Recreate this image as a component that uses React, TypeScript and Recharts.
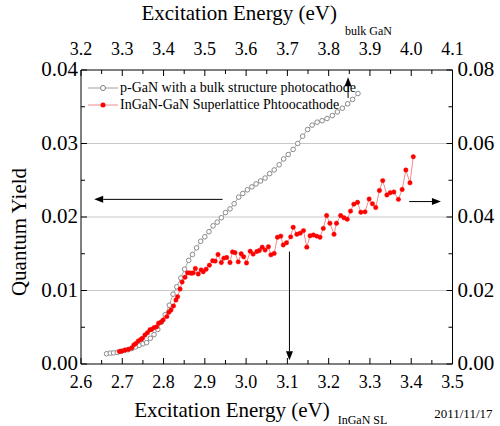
import React from 'react'
import { LineChart, Line, XAxis, YAxis, ReferenceLine, Legend, Label } from 'recharts'

const FONT = '"Liberation Serif", "Times New Roman", serif'

// p-GaN bulk photocathode: energy on the top axis (eV), yield on the left axis
const bulkEnergy = [
  3.262, 3.271, 3.279, 3.288, 3.297, 3.305, 3.314, 3.323, 3.332, 3.341,
  3.350, 3.359, 3.368, 3.377, 3.386, 3.395, 3.404, 3.414, 3.423, 3.432,
  3.442, 3.451, 3.461, 3.470, 3.480, 3.490, 3.500, 3.510, 3.520, 3.530,
  3.540, 3.550, 3.561, 3.571, 3.582, 3.592, 3.603, 3.614, 3.624, 3.635,
  3.646, 3.657, 3.668, 3.680, 3.691, 3.702, 3.714, 3.725, 3.737, 3.749,
  3.760, 3.772, 3.784, 3.796, 3.809, 3.821, 3.833, 3.846, 3.858, 3.871,
]
const bulkYield = [
  0.0014, 0.00148, 0.00151, 0.00158, 0.00174, 0.00184, 0.00194, 0.0021, 0.00232, 0.00255,
  0.00275, 0.0029, 0.0035, 0.004, 0.0047, 0.0057, 0.0067, 0.008, 0.0095, 0.0105,
  0.0117, 0.0129, 0.0141, 0.0149, 0.0158, 0.0167, 0.0173, 0.018, 0.0188, 0.0193,
  0.0199, 0.0206, 0.0211, 0.0218, 0.0227, 0.0232, 0.0237, 0.0241, 0.0245, 0.0249,
  0.0253, 0.0259, 0.0264, 0.0271, 0.0279, 0.0285, 0.0292, 0.03, 0.031, 0.0319,
  0.0325, 0.0329, 0.0331, 0.0334, 0.0338, 0.0343, 0.0348, 0.0354, 0.036, 0.0368,
]

// InGaN-GaN superlattice: energy on the bottom axis (eV), yield on the right axis
const slEnergy = [
  2.693, 2.699, 2.707, 2.715, 2.723, 2.728, 2.733, 2.739, 2.745, 2.749,
  2.755, 2.761, 2.767, 2.771, 2.777, 2.783, 2.788, 2.794, 2.799, 2.808,
  2.813, 2.818, 2.824, 2.830, 2.834, 2.840, 2.845, 2.852, 2.858, 2.863,
  2.868, 2.872, 2.877, 2.884, 2.891, 2.896, 2.903, 2.911, 2.919, 2.925,
  2.932, 2.940, 2.946, 2.953, 2.961, 2.967, 2.973, 2.981, 2.988, 2.994,
  3.001, 3.010, 3.017, 3.026, 3.032, 3.039, 3.046, 3.054, 3.060, 3.068,
  3.076, 3.084, 3.090, 3.098, 3.108, 3.114, 3.123, 3.131, 3.139, 3.147,
  3.155, 3.163, 3.171, 3.179, 3.187, 3.195, 3.203, 3.213, 3.219, 3.229,
  3.237, 3.245, 3.253, 3.261, 3.270, 3.278, 3.288, 3.298, 3.306, 3.314,
  3.323, 3.331, 3.341, 3.349, 3.358, 3.369, 3.378, 3.387, 3.397, 3.405,
]
const slYield = [
  0.0034, 0.0035, 0.0038, 0.004, 0.0044, 0.0052, 0.0056, 0.0063, 0.0067, 0.007,
  0.0079, 0.0085, 0.0093, 0.0094, 0.0099, 0.0101, 0.0111, 0.0114, 0.012, 0.0129,
  0.0141, 0.0147, 0.0158, 0.0174, 0.0183, 0.0204, 0.0223, 0.0236, 0.0248, 0.0248,
  0.0247, 0.0248, 0.026, 0.0245, 0.0256, 0.0251, 0.0258, 0.0269, 0.0281, 0.028,
  0.0298, 0.0276, 0.0288, 0.029, 0.0276, 0.0305, 0.0303, 0.0278, 0.03, 0.0292,
  0.0275, 0.0307, 0.0299, 0.0306, 0.0309, 0.0318, 0.031, 0.0319, 0.0297, 0.0301,
  0.0345, 0.0348, 0.0324, 0.033, 0.0346, 0.0372, 0.0353, 0.0356, 0.0363, 0.0318,
  0.0349, 0.0351, 0.0348, 0.0345, 0.0369, 0.0404, 0.0383, 0.0353, 0.0383, 0.0404,
  0.0398, 0.0394, 0.0416, 0.0435, 0.044, 0.0413, 0.0414, 0.0449, 0.0436, 0.0426,
  0.0472, 0.0499, 0.046, 0.0466, 0.0468, 0.0448, 0.0475, 0.0528, 0.0493, 0.0564,
]

const bottomTicks = [2.6, 2.65, 2.7, 2.75, 2.8, 2.85, 2.9, 2.95, 3.0, 3.05, 3.1, 3.15, 3.2, 3.25, 3.3, 3.35, 3.4, 3.45, 3.5]
const topTicks = [3.2, 3.25, 3.3, 3.35, 3.4, 3.45, 3.5, 3.55, 3.6, 3.65, 3.7, 3.75, 3.8, 3.85, 3.9, 3.95, 4.0, 4.05, 4.1]
const leftTicks = [0, 0.005, 0.01, 0.015, 0.02, 0.025, 0.03, 0.035, 0.04]
const rightTicks = [0, 0.01, 0.02, 0.03, 0.04, 0.05, 0.06, 0.07, 0.08]
const gridLevels = [0.01, 0.02, 0.03]

const bulkName = 'p-GaN with a bulk structure photocathode'
const slName = 'InGaN-GaN Superlattice Phtoocathode'

const bulkData = bulkEnergy.map((x, i) => ({ x, y: bulkYield[i] }))
const slData = slEnergy.map((x, i) => ({ x, y: slYield[i] }))

const onStep = (v: number, step: number) => Math.abs(v / step - Math.round(v / step)) < 1e-6

const BottomTick = (props: any) => {
  const { x, y, payload } = props
  const major = onStep(payload.value, 0.1)
  return (
    <g>
      <line x1={x} y1={y} x2={x} y2={y - (major ? 6 : 4)} stroke="#000" />
      {major && (
        <text x={x} y={y + 24} textAnchor="middle" fontSize={18} fontFamily={FONT} fill="#000">
          {payload.value.toFixed(1)}
        </text>
      )}
    </g>
  )
}

const TopTick = (props: any) => {
  const { x, y, payload } = props
  const major = onStep(payload.value, 0.1)
  return (
    <g>
      <line x1={x} y1={y} x2={x} y2={y + (major ? 6 : 4)} stroke="#000" />
      {major && (
        <text x={x} y={y - 15} textAnchor="middle" fontSize={18} fontFamily={FONT} fill="#000">
          {payload.value.toFixed(1)}
        </text>
      )}
    </g>
  )
}

const LeftTick = (props: any) => {
  const { x, y, payload } = props
  const major = onStep(payload.value, 0.01)
  return (
    <g>
      <line x1={x} y1={y} x2={x + (major ? 6 : 4)} y2={y} stroke="#000" />
      {major && (
        <text x={x - 3} y={y + 6} textAnchor="end" fontSize={21} fontFamily={FONT} fill="#000">
          {payload.value.toFixed(2)}
        </text>
      )}
    </g>
  )
}

const RightTick = (props: any) => {
  const { x, y, payload } = props
  const major = onStep(payload.value, 0.02)
  return (
    <g>
      <line x1={x} y1={y} x2={x - (major ? 6 : 4)} y2={y} stroke="#000" />
      {major && (
        <text x={x + 5} y={y + 6} textAnchor="start" fontSize={21} fontFamily={FONT} fill="#000">
          {payload.value.toFixed(2)}
        </text>
      )}
    </g>
  )
}

const TopTitle = ({ viewBox }: any) => (
  <text x={viewBox.x + viewBox.width / 2} y={viewBox.y + 20} textAnchor="middle" fontFamily={FONT} fill="#000">
    <tspan fontSize={21}>Excitation Energy (eV)</tspan>
    <tspan fontSize={12} dx={8} dy={15}>bulk GaN</tspan>
  </text>
)

const BottomTitle = ({ viewBox }: any) => (
  <g>
    <text x={viewBox.x + viewBox.width / 2 - 6} y={viewBox.y + 53} textAnchor="middle" fontFamily={FONT} fill="#000">
      <tspan fontSize={21}>Excitation Energy (eV)</tspan>
      <tspan fontSize={12} dx={8} dy={7}>InGaN SL</tspan>
    </text>
    <text x={viewBox.x + viewBox.width + 40} y={viewBox.y + 54} textAnchor="end" fontSize={13} fontFamily={FONT} fill="#000">
      2011/11/17
    </text>
  </g>
)

const LeftTitle = ({ viewBox }: any) => {
  const cx = viewBox.x + 26
  const cy = viewBox.y + viewBox.height / 2 + 15
  return (
    <text x={cx} y={cy} transform={`rotate(-90, ${cx}, ${cy})`} textAnchor="middle" fontSize={21} fontFamily={FONT} fill="#000">
      Quantum Yield
    </text>
  )
}

const Arrow = (props: any) => {
  const { x1, y1, x2, y2 } = props
  const ang = Math.atan2(y2 - y1, x2 - x1)
  const len = 9
  const half = 3.5
  const bx = x2 - len * Math.cos(ang)
  const by = y2 - len * Math.sin(ang)
  const px = -Math.sin(ang) * half
  const py = Math.cos(ang) * half
  return (
    <g>
      <line x1={x1} y1={y1} x2={bx} y2={by} stroke="#000" strokeWidth={1} />
      <polygon points={`${x2},${y2} ${bx + px},${by + py} ${bx - px},${by - py}`} fill="#000" />
    </g>
  )
}

const LegendBox = () => (
  <div style={{ fontFamily: FONT, fontSize: 14, color: '#000', lineHeight: '17px' }}>
    <div style={{ display: 'flex', alignItems: 'center', whiteSpace: 'nowrap' }}>
      <svg width={34} height={12}>
        <line x1={2} y1={6} x2={32} y2={6} stroke="#a0a0a0" />
        <circle cx={17} cy={6} r={2.5} fill="#fff" stroke="#808080" />
      </svg>
      <span>{bulkName}</span>
    </div>
    <div style={{ display: 'flex', alignItems: 'center', whiteSpace: 'nowrap' }}>
      <svg width={34} height={12}>
        <line x1={2} y1={6} x2={32} y2={6} stroke="#f08c8c" />
        <circle cx={17} cy={6} r={2.5} fill="#ff0000" />
      </svg>
      <span>{slName}</span>
    </div>
  </div>
)

export default function App() {
  return (
    <div style={{ position: 'absolute', left: 0, top: 0, width: 500, height: 426, background: '#fff' }}>
      <LineChart width={500} height={426} margin={{ top: 0, right: 0, bottom: 0, left: 0 }}>
        <XAxis
          xAxisId="bottom"
          dataKey="x"
          type="number"
          domain={[2.6, 3.5]}
          ticks={bottomTicks}
          interval={0}
          height={62}
          tickSize={0}
          tickMargin={0}
          tickLine={false}
          axisLine={{ stroke: '#000' }}
          tick={<BottomTick />}
          allowDataOverflow
        >
          <Label content={<BottomTitle />} />
        </XAxis>
        <XAxis
          xAxisId="top"
          orientation="top"
          dataKey="x"
          type="number"
          domain={[3.2, 4.1]}
          ticks={topTicks}
          interval={0}
          height={70}
          tickSize={0}
          tickMargin={0}
          tickLine={false}
          axisLine={{ stroke: '#000' }}
          tick={<TopTick />}
          allowDataOverflow
        >
          <Label content={<TopTitle />} />
        </XAxis>
        <YAxis
          yAxisId="left"
          type="number"
          domain={[0, 0.04]}
          ticks={leftTicks}
          interval={0}
          width={81}
          tickSize={0}
          tickMargin={0}
          tickLine={false}
          axisLine={{ stroke: '#000' }}
          tick={<LeftTick />}
          allowDataOverflow
        >
          <Label content={<LeftTitle />} />
        </YAxis>
        <YAxis
          yAxisId="right"
          orientation="right"
          type="number"
          domain={[0, 0.08]}
          ticks={rightTicks}
          interval={0}
          width={47.5}
          tickSize={0}
          tickMargin={0}
          tickLine={false}
          axisLine={{ stroke: '#000' }}
          tick={<RightTick />}
          allowDataOverflow
        />

        {gridLevels.map((g) => (
          <ReferenceLine key={g} xAxisId="bottom" yAxisId="left" y={g} stroke="#c8c8c8" strokeWidth={1} />
        ))}

        <Line
          xAxisId="top"
          yAxisId="left"
          data={bulkData}
          dataKey="y"
          name={bulkName}
          stroke="#a8a8a8"
          strokeWidth={1}
          dot={{ r: 2.3, fill: '#fff', stroke: '#8a8a8a', strokeWidth: 1 }}
          activeDot={false}
          isAnimationActive={false}
        />
        <Line
          xAxisId="bottom"
          yAxisId="right"
          data={slData}
          dataKey="y"
          name={slName}
          stroke="#f08c8c"
          strokeWidth={1}
          dot={{ r: 2.2, fill: '#ff0000', stroke: '#ff0000', strokeWidth: 0.5 }}
          activeDot={false}
          isAnimationActive={false}
        />

        {/* arrows pointing each curve to its own axes */}
        <ReferenceLine xAxisId="bottom" yAxisId="left" segment={[{ x: 2.943, y: 0.0224 }, { x: 2.632, y: 0.0224 }]} shape={Arrow} />
        <ReferenceLine xAxisId="bottom" yAxisId="left" segment={[{ x: 3.395, y: 0.0221 }, { x: 3.472, y: 0.0221 }]} shape={Arrow} />
        <ReferenceLine xAxisId="bottom" yAxisId="left" segment={[{ x: 3.105, y: 0.0153 }, { x: 3.105, y: 0.0005 }]} shape={Arrow} />
        <ReferenceLine xAxisId="top" yAxisId="left" segment={[{ x: 3.847, y: 0.0362 }, { x: 3.847, y: 0.039 }]} shape={Arrow} />

        <Legend
          layout="vertical"
          align="center"
          verticalAlign="middle"
          wrapperStyle={{ left: 86, top: 79, width: 'auto', height: 'auto' }}
          content={<LegendBox />}
        />
      </LineChart>
    </div>
  )
}
